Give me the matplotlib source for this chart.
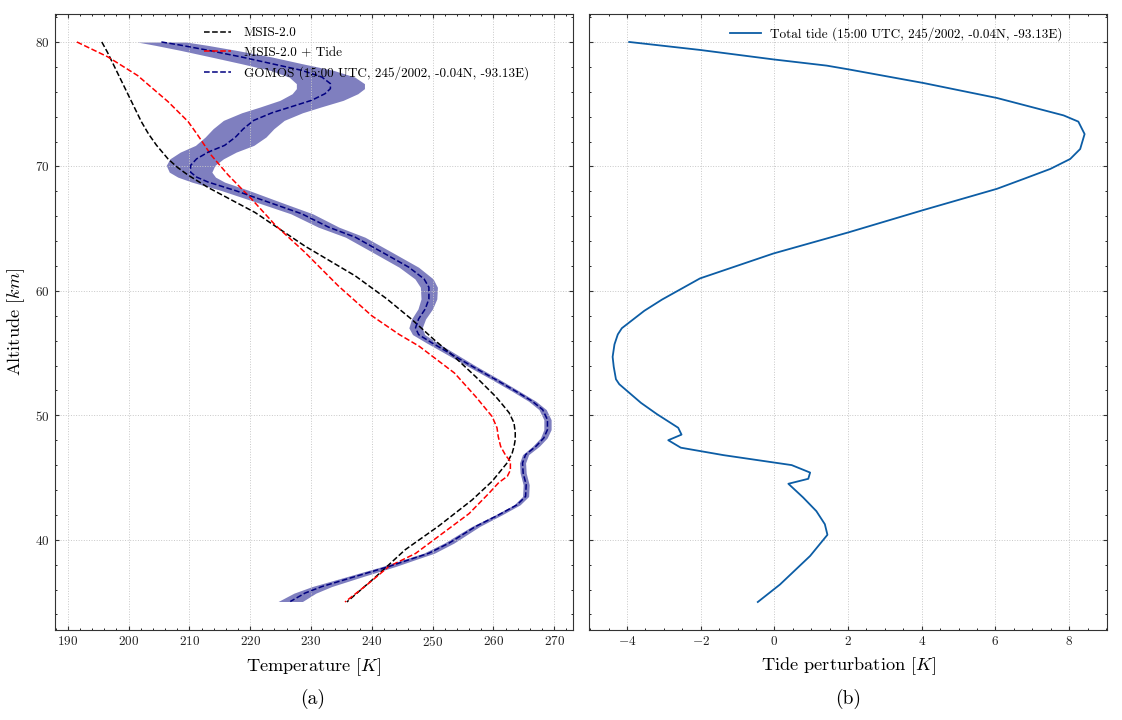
import numpy as np
import matplotlib
matplotlib.use("Agg")
import matplotlib.pyplot as plt
from matplotlib.ticker import MultipleLocator

plt.rcParams.update({
    "font.family": ["cmr10", "DejaVu Serif"],
    "mathtext.fontset": "cm",
    "axes.formatter.use_mathtext": True,
    "axes.unicode_minus": True,
    "xtick.direction": "in",
    "ytick.direction": "in",
    "xtick.top": True,
    "ytick.right": True,
    "xtick.minor.visible": True,
    "ytick.minor.visible": True,
    "xtick.major.size": 3,
    "ytick.major.size": 3,
    "xtick.minor.size": 1.5,
    "ytick.minor.size": 1.5,
    "axes.linewidth": 0.8,
    "axes.edgecolor": "#333333",
})

# ---------------- data ----------------
msis_alt = [80, 79.2, 78.4, 77.3, 76.0, 74.9, 73.6, 72.6, 71.7, 70.6, 69.9, 69.3, 68.3,
            66.3, 63.6, 61.2, 59.35, 57.7, 56.1, 54.7, 53.1, 51.5, 50.86, 50.2, 49.38, 48.6,
            48.04, 47.5, 46.97, 46.2, 44.7, 43.2, 41.1, 39.2, 37.0, 35.0]
msis_T = [195.6, 196.5, 197.3, 198.4, 199.7, 200.8, 202.1, 203.3, 204.6, 206.5, 208.1, 209.8, 213.1,
          220.8, 229.0, 237.3, 242.5, 246.6, 250.2, 253.6, 257.1, 260.4, 261.5, 262.6, 263.4, 263.6,
          263.6, 263.4, 263.1, 262.3, 259.8, 256.5, 251.0, 245.5, 240.6, 235.9]

tide_model_alt = [80, 78.8, 77.3, 75.2, 73.6, 72.5, 70.9, 69.3, 67.4, 65.3, 63.1, 60.4, 58.0,
                  57.4, 56.5, 55.55, 53.4, 51.5, 49.9, 49.0, 48.3, 47.5, 46.8, 46.3, 45.6, 45.1, 44.6,
                  43.75, 42.1, 40.5, 38.9, 37.85, 36.5, 35.0]
tide_model_T = [191.5, 196.6, 201.5, 206.5, 209.8, 211.4, 213.6, 216.4, 220.2, 224.1, 229.0, 234.5, 240.0,
                241.8, 244.5, 247.8, 253.6, 257.1, 259.8, 260.6, 260.8, 261.2, 262.0, 262.8, 262.8, 262.3,
                260.9, 259.3, 256.0, 251.6, 247.2, 242.8, 239.5, 235.6]

gomos_alt = [80.00, 79.73, 79.33, 78.79, 78.26, 77.72, 77.18, 76.65, 76.25, 75.84, 75.31, 74.77,
             74.31, 73.70, 73.03, 72.36, 71.69, 71.15, 70.61, 70.08, 69.54, 69.14, 68.74, 68.07,
             67.13, 66.19, 65.12, 64.31, 63.11, 61.90, 60.96, 60.29, 59.35, 58.55, 57.74, 57.03,
             56.49, 55.82, 54.88, 53.94, 52.87, 51.93, 51.13, 50.46, 49.65, 48.85, 48.18, 47.51,
             46.84, 46.17, 45.36, 44.42, 43.48, 42.81, 42.01, 41.07, 39.73, 38.92, 38.39, 37.85,
             37.05, 36.24, 35.71, 35.04]
gomos_T = [205.4, 208.7, 213.1, 218.6, 223.5, 228.5, 231.8, 233.2, 233.2, 232.3, 230.1, 226.6,
           223.6, 220.6, 218.9, 217.6, 215.8, 213.1, 211.2, 210.2, 210.2, 211.2, 213.1, 217.5,
           223.0, 228.5, 232.9, 237.3, 241.7, 246.1, 248.6, 249.4, 249.4, 248.8, 247.7, 247.2,
           247.7, 249.9, 253.2, 256.5, 260.4, 263.7, 266.4, 268.1, 268.9, 268.9, 268.3, 267.0,
           265.3, 264.8, 264.9, 265.4, 265.3, 263.9, 260.9, 257.1, 252.7, 249.4, 246.1, 242.8,
           237.3, 231.8, 229.0, 226.6]
gomos_err = [4.0, 4.3, 4.6, 5.0, 5.0, 5.2, 5.4, 5.6, 5.6, 5.4, 5.2, 5.0,
             5.0, 5.0, 5.0, 5.0, 4.8, 4.6, 4.4, 4.0, 3.5, 3.1, 2.7, 2.3,
             2.0, 1.8, 1.7, 1.6, 1.6, 1.6, 1.5, 1.4, 1.3, 1.2, 1.15, 1.1,
             1.0, 0.9, 0.8, 0.7, 0.65, 0.6, 0.6, 0.6, 0.6, 0.6, 0.55, 0.55,
             0.5, 0.5, 0.5, 0.5, 0.5, 0.5, 0.55, 0.65, 0.8, 0.9, 1.0, 1.1,
             1.3, 1.6, 1.8, 2.0]

tide_alt = [80.0, 79.36, 78.6, 78.1, 77.8, 76.7, 75.5, 74.1, 73.6, 72.6,
            71.4, 70.6, 69.8, 69.0, 68.2, 66.5, 64.7, 63.8, 63.0, 61.0,
            59.3, 58.4, 57.0, 56.5, 55.7, 54.7, 53.9, 52.9, 52.5, 51.0, 50.1, 49.0,
            48.45, 48.0, 47.4, 46.8, 46.0, 45.4, 44.9, 44.5, 43.4, 42.3, 41.25, 40.4,
            38.7, 36.4, 35.0]
tide_val = [-3.94, -2.02, -0.03, 1.42, 2.01, 4.05, 6.04, 7.85, 8.25, 8.42,
            8.30, 8.03, 7.49, 6.77, 6.04, 4.05, 2.01, 0.93, -0.03, -2.02,
            -3.05, -3.53, -4.14, -4.25, -4.34, -4.39, -4.36, -4.30, -4.21, -3.62, -3.19, -2.61,
            -2.52, -2.88, -2.54, -1.38, 0.47, 0.97, 0.92, 0.38, 0.78, 1.14, 1.37, 1.44,
            0.97, 0.15, -0.45]

# ---------------- figure ----------------
fig = plt.figure(figsize=(11.22, 7.2), dpi=100)
ax1 = fig.add_axes([0.049, 0.125, 0.4617, 0.8556])
ax2 = fig.add_axes([0.525, 0.125, 0.4617, 0.8556], sharey=ax1)

gT = np.array(gomos_T)
gE = np.array(gomos_err)
ax1.plot(msis_T, msis_alt, "--", color="black", lw=1.1, label="MSIS-2.0")
ax1.plot(tide_model_T, tide_model_alt, "--", color="red", lw=1.1, label="MSIS-2.0 + Tide")
ax1.fill_betweenx(gomos_alt, gT - gE, gT + gE, color="navy", alpha=0.5, lw=0)
ax1.plot(gomos_T, gomos_alt, "--", color="navy", lw=1.1,
         label="GOMOS (15:00 UTC, 245/2002, -0.04N, -93.13E)")

ax2.plot(tide_val, tide_alt, "-", color="#0C5DA5", lw=1.3,
         label="Total tide (15:00 UTC, 245/2002, -0.04N, -93.13E)")

for ax in (ax1, ax2):
    ax.grid(True, which="major", linestyle=":", color="#c8c8c8", lw=0.7)
    ax.tick_params(labelsize=9.5, colors="#333333", labelcolor="#222222")

ax1.xaxis.set_major_locator(MultipleLocator(10))
ax1.xaxis.set_minor_locator(MultipleLocator(2))
ax1.yaxis.set_major_locator(MultipleLocator(10))
ax1.yaxis.set_minor_locator(MultipleLocator(2))
ax2.xaxis.set_major_locator(MultipleLocator(2))
ax2.xaxis.set_minor_locator(MultipleLocator(0.5))
ax2.tick_params(labelleft=False)

ax1.set_xlim(187.9, 273.1)
ax2.set_xlim(-5.03, 9.03)
ax1.set_ylim(32.75, 82.25)

ax1.set_xlabel("Temperature [$K$]", fontsize=13.2, labelpad=5)
ax2.set_xlabel("Tide perturbation [$K$]", fontsize=13.2, labelpad=5)
ax1.set_ylabel("Altitude [$km$]", fontsize=13.2, labelpad=6)

ax1.legend(loc="upper left", bbox_to_anchor=(0.265, 0.998), frameon=False, fontsize=9.5,
           handlelength=2.0, handletextpad=1.0, labelspacing=0.55)
ax2.legend(loc="upper left", bbox_to_anchor=(0.25, 0.998), frameon=False, fontsize=9.5,
           handlelength=2.3, handletextpad=0.7)

fig.text(313 / 1122, 1 - 699 / 720, "(a)", ha="center", va="center", fontsize=14)
fig.text(848 / 1122, 1 - 699 / 720, "(b)", ha="center", va="center", fontsize=14)

fig.savefig("out.png", dpi=100)
